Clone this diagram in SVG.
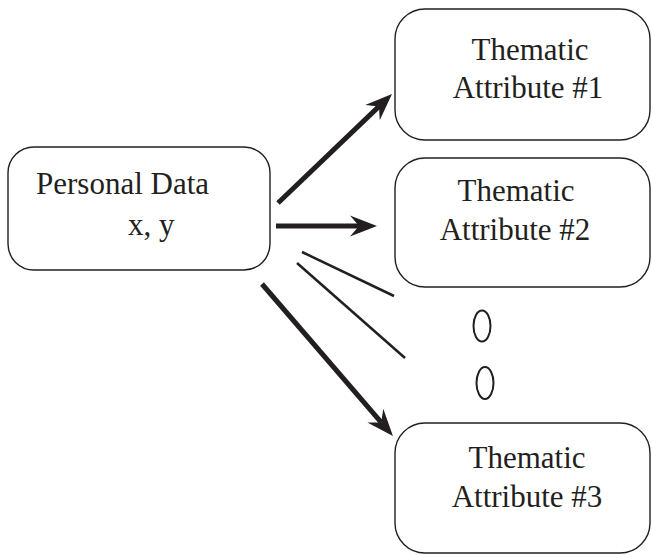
<svg xmlns="http://www.w3.org/2000/svg" width="652" height="555" viewBox="0 0 652 555">
<style>
.box{fill:#fff;stroke:#231f20;stroke-width:1.4}
.t{font-family:"Liberation Serif","Times New Roman",serif;font-size:31px;fill:#231f20}
.c{text-anchor:middle}
.thick{stroke:#231f20;stroke-width:5;fill:none}
.thin{stroke:#231f20;stroke-width:2.5;fill:none}
.dot{fill:none;stroke:#231f20;stroke-width:2}
</style>
<defs>
<marker id="ah" markerUnits="userSpaceOnUse" markerWidth="27" markerHeight="22" viewBox="0 0 27 22" refX="9" refY="11" orient="auto">
<path d="M0,0.5 L27,11 L0,21.5 L9,11 z" fill="#231f20"/>
</marker>
</defs>
<rect width="652" height="555" fill="#fff"/>
<g id="connectors">
<line class="thick" x1="278" y1="203" x2="379" y2="106.4" marker-end="url(#ah)"/>
<line class="thick" x1="276" y1="226" x2="359" y2="226" marker-end="url(#ah)"/>
<line class="thick" x1="262" y1="284" x2="381.2" y2="422.4" marker-end="url(#ah)"/>
<line class="thin" x1="302" y1="252" x2="394" y2="296"/>
<line class="thin" x1="297" y1="263" x2="405" y2="358"/>
</g>
<g id="personal">
<rect class="box" x="8" y="147" width="262" height="123" rx="26"/>
<text class="t" x="36" y="194">Personal Data</text>
<text class="t" x="128" y="235">x, y</text>
</g>
<g id="attr1">
<rect class="box" x="395" y="9" width="255" height="131" rx="30"/>
<text class="t c" x="530" y="60">Thematic</text>
<text class="t c" x="528" y="98">Attribute #1</text>
</g>
<g id="attr2">
<rect class="box" x="395" y="158" width="255" height="129" rx="30"/>
<text class="t c" x="516" y="201">Thematic</text>
<text class="t c" x="515" y="240">Attribute #2</text>
</g>
<g id="attr3">
<rect class="box" x="395" y="423" width="255" height="130" rx="30"/>
<text class="t c" x="527" y="468">Thematic</text>
<text class="t c" x="527" y="507">Attribute #3</text>
</g>
<g id="ellipsis">
<ellipse class="dot" cx="482" cy="326" rx="8.5" ry="15.5"/>
<ellipse class="dot" cx="485" cy="383" rx="8.5" ry="16"/>
</g>
</svg>
